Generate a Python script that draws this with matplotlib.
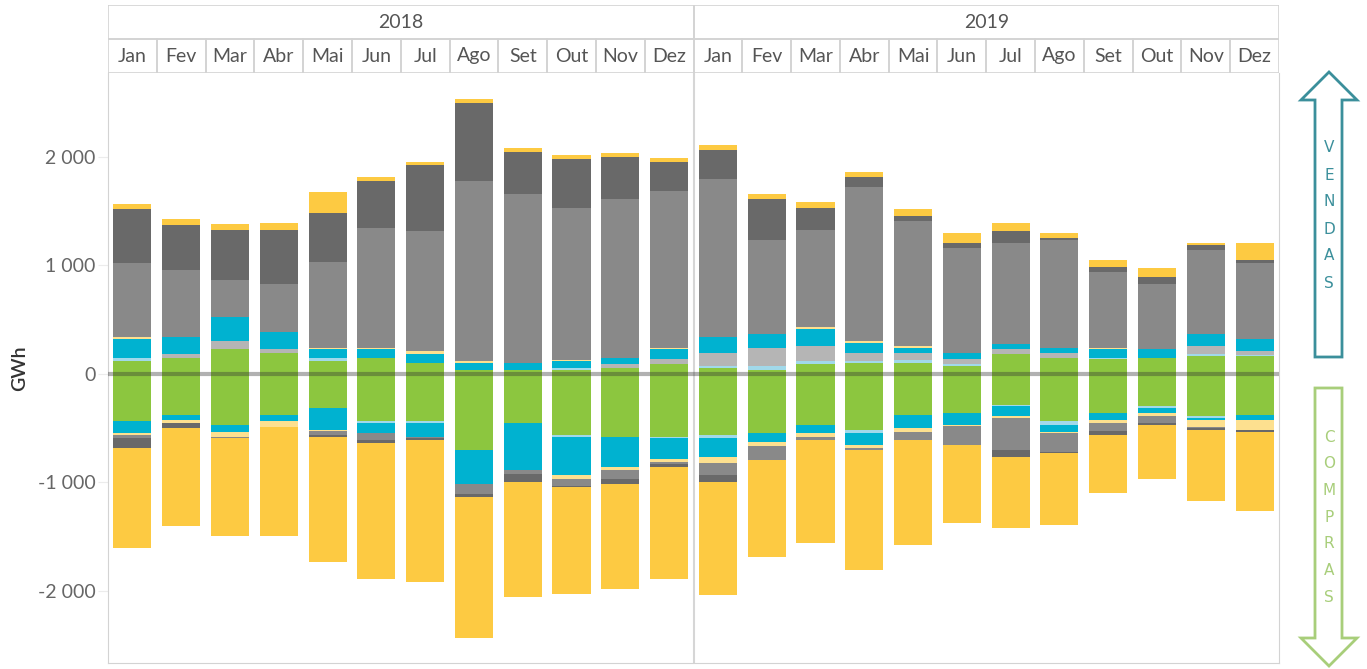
import matplotlib.pyplot as plt
from matplotlib.patches import Polygon, Rectangle

years = ["2018", "2019"]
months = ["Jan", "Fev", "Mar", "Abr", "Mai", "Jun",
          "Jul", "Ago", "Set", "Out", "Nov", "Dez"]

# Vendas (positive), stacked from zero upwards, GWh
green_pos = [120, 147, 230, 194, 120, 147, 101, 37, 37, 37, 55, 92,
             55, 37, 92, 101, 101, 74, 184, 147, 138, 147, 166, 166]
lblue_pos = [27, 0, 0, 0, 28, 0, 0, 0, 0, 18, 0, 0,
             18, 37, 28, 18, 28, 18, 0, 0, 9, 0, 18, 9]
lgray_pos = [0, 37, 74, 37, 0, 0, 0, 0, 0, 0, 37, 46,
             120, 166, 138, 74, 65, 46, 46, 46, 0, 0, 74, 37]
cyan_pos = [176, 157, 221, 160, 83, 83, 83, 65, 65, 65, 55, 92,
            147, 132, 157, 92, 46, 55, 49, 46, 83, 83, 114, 111]
lyellow_pos = [18, 0, 0, 0, 9, 9, 28, 18, 0, 9, 0, 9,
               0, 0, 18, 18, 18, 0, 0, 0, 9, 0, 0, 0]
gray_pos = [682, 617, 341, 439, 793, 1106, 1106, 1659, 1557, 1401, 1465, 1447,
            1456, 863, 894, 1419, 1152, 968, 928, 995, 700, 599, 771, 700]
dkgray_pos = [498, 415, 461, 498, 452, 433, 608, 719, 387, 452, 387, 267,
              267, 378, 203, 92, 46, 46, 111, 18, 46, 65, 46, 28]
yellow_pos = [46, 55, 55, 65, 194, 37, 28, 37, 37, 37, 37, 37,
              46, 46, 55, 46, 65, 92, 74, 46, 65, 83, 18, 157]

# Compras (negative), stacked from zero downwards, GWh
green_neg = [433, 378, 470, 378, 313, 433, 433, 700, 452, 562, 581, 581,
             562, 544, 470, 516, 378, 359, 286, 433, 359, 295, 387, 378]
lblue_neg = [0, 0, 0, 0, 0, 18, 18, 0, 0, 18, 0, 9,
             28, 0, 0, 28, 0, 0, 9, 37, 0, 18, 18, 0]
cyan_neg = [111, 46, 65, 55, 203, 92, 129, 313, 433, 350, 276, 194,
            175, 83, 74, 111, 120, 111, 92, 65, 65, 46, 18, 46]
lyellow_neg = [18, 28, 46, 55, 9, 0, 0, 0, 0, 37, 28, 28,
               55, 37, 37, 28, 37, 9, 18, 9, 28, 28, 65, 92]
gray_neg = [28, 0, 9, 0, 37, 65, 9, 92, 37, 65, 83, 18,
            111, 129, 28, 18, 74, 175, 295, 175, 74, 65, 9, 0]
dkgray_neg = [92, 46, 0, 0, 18, 28, 18, 28, 74, 9, 46, 28,
              65, 0, 0, 0, 0, 0, 65, 9, 37, 18, 18, 18]
yellow_neg = [922, 900, 900, 1001, 1149, 1250, 1306, 1300, 1060, 986, 968, 1032,
              1041, 894, 949, 1106, 968, 719, 654, 664, 535, 498, 654, 728]

GREEN, LBLUE, LGRAY, CYAN = "#8cc63f", "#a1d9ea", "#b5b5b5", "#00b2d0"
LYELLOW, GRAY, DKGRAY, YELLOW = "#fde08f", "#898989", "#696969", "#fdca42"

pos_stack = [(green_pos, GREEN), (lblue_pos, LBLUE), (lgray_pos, LGRAY),
             (cyan_pos, CYAN), (lyellow_pos, LYELLOW), (gray_pos, GRAY),
             (dkgray_pos, DKGRAY), (yellow_pos, YELLOW)]
neg_stack = [(green_neg, GREEN), (lblue_neg, LBLUE), (cyan_neg, CYAN),
             (lyellow_neg, LYELLOW), (gray_neg, GRAY), (dkgray_neg, DKGRAY),
             (yellow_neg, YELLOW)]

plt.rcParams['font.family'] = ['Lato', 'DejaVu Sans']
W, H = 1367, 669
fig = plt.figure(figsize=(W / 100, H / 100), dpi=100)
border = "#d3d3d3"
txt = "#555555"

# main plot area
ax = fig.add_axes([108 / W, 1 - 663 / H, (1279 - 108) / W, (663 - 73) / H])
n = len(months) * len(years)
x = list(range(n))
bw = 0.78

bottom = [0] * n
for vals, col in pos_stack:
    ax.bar(x, vals, bw, bottom=bottom, color=col, linewidth=0, zorder=2)
    bottom = [b + v for b, v in zip(bottom, vals)]

bottom = [0] * n
for vals, col in neg_stack:
    neg = [-v for v in vals]
    ax.bar(x, neg, bw, bottom=bottom, color=col, linewidth=0, zorder=2)
    bottom = [b + v for b, v in zip(bottom, neg)]

ax.axhline(0, color="#333333", alpha=0.38, lw=3, zorder=3)
ax.axvline(11.5, color="#d6d6d6", lw=1.5, zorder=1)
ax.set_xlim(-0.5, n - 0.5)
ax.set_ylim(-2664, 2774)
ax.set_xticks([])
ticks = [-2000, -1000, 0, 1000, 2000]
ax.set_yticks(ticks)
ax.set_yticklabels([f"{t:,}".replace(",", " ") for t in ticks],
                   fontsize=14, color="#666666")
ax.tick_params(axis="y", length=7, color="#ececec", pad=2)
for s in ax.spines.values():
    s.set_color(border)
ax.spines["top"].set_visible(False)
ax.set_ylabel("GWh", fontsize=14, color="#333333", fontweight="semibold")
ax.yaxis.set_label_coords(-0.068, 0.5)

# header rows (year / month)
hx = fig.add_axes([108 / W, 1 - 73 / H, (1279 - 108) / W, (73 - 5) / H])
hx.set_xlim(-0.5, n - 0.5)
hx.set_ylim(0, 2)
hx.axis("off")
for i, yr in enumerate(years):
    hx.add_patch(Rectangle((i * 12 - 0.5, 1), 12, 1, fill=False,
                           ec=border, lw=1.2))
    hx.text(i * 12 + 5.5, 1.5, yr, ha="center", va="center",
            fontsize=14, color=txt)
    for j, m in enumerate(months):
        k = i * 12 + j
        hx.add_patch(Rectangle((k - 0.5, 0), 1, 1, fill=False,
                               ec=border, lw=1.2))
        hx.text(k, 0.5, m, ha="center", va="center", fontsize=14, color=txt)

# side arrows
ov = fig.add_axes([0, 0, 1, 1], zorder=-1)
ov.set_xlim(0, W)
ov.set_ylim(H, 0)
ov.axis("off")
teal, lgreen = "#3b8f9b", "#a8ce7a"
up = [(1329, 72), (1357, 100), (1342, 100), (1342, 357), (1315, 357),
      (1315, 100), (1301, 100)]
down = [(1315, 388), (1342, 388), (1342, 638), (1357, 638), (1329, 666),
        (1301, 638), (1315, 638)]
ov.add_patch(Polygon(up, closed=True, fill=False, ec=teal, lw=2))
ov.add_patch(Polygon(down, closed=True, fill=False, ec=lgreen, lw=2))
for i, ch in enumerate("VENDAS"):
    ov.text(1329, 148 + i * 27, ch, ha="center", va="center",
            fontsize=11, color=teal, family="DejaVu Sans")
for i, ch in enumerate("COMPRAS"):
    ov.text(1329, 437 + i * 26.7, ch, ha="center", va="center",
            fontsize=11, color=lgreen, family="DejaVu Sans")

fig.savefig("out.png", dpi=100)
